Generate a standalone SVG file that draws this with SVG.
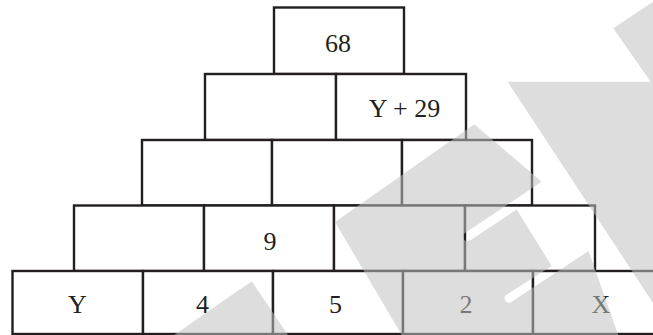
<svg xmlns="http://www.w3.org/2000/svg" width="653" height="335" viewBox="0 0 653 335">
<style>
.box{fill:#ffffff;stroke:#231f20;stroke-width:2.4}
.lbl{font-family:"Liberation Serif","Times New Roman",serif;font-size:26px;fill:#231f20;text-anchor:middle}
.wm{fill:#c1c1c1;opacity:0.55}
</style>
<rect width="653" height="335" fill="#ffffff"/>
<g id="row1">
<g id="n68"><rect class="box" x="274" y="7.5" width="130" height="66.5"/><text class="lbl" x="338" y="52">68</text></g>
</g>
<g id="row2">
<g id="r2c1"><rect class="box" x="205" y="74" width="131" height="66"/></g>
<g id="nY29"><rect class="box" x="336" y="74" width="130" height="66"/><text class="lbl" x="404.5" y="117">Y + 29</text></g>
</g>
<g id="row3">
<g id="r3c1"><rect class="box" x="142" y="140" width="130" height="65.5"/></g>
<g id="r3c2"><rect class="box" x="272" y="140" width="130" height="65.5"/></g>
<g id="r3c3"><rect class="box" x="402" y="140" width="130" height="65.5"/></g>
</g>
<g id="row4">
<g id="r4c1"><rect class="box" x="74" y="205.5" width="130" height="65.5"/></g>
<g id="n9"><rect class="box" x="204" y="205.5" width="130" height="65.5"/><text class="lbl" x="270" y="249.5">9</text></g>
<g id="r4c3"><rect class="box" x="334" y="205.5" width="131" height="65.5"/></g>
<g id="r4c4"><rect class="box" x="465" y="205.5" width="130" height="65.5"/></g>
</g>
<g id="row5">
<g id="nY"><rect class="box" x="12.5" y="271" width="130.5" height="63"/><text class="lbl" x="77.5" y="313">Y</text></g>
<g id="n4"><rect class="box" x="143" y="271" width="130" height="63"/><text class="lbl" x="202.5" y="313">4</text></g>
<g id="n5"><rect class="box" x="273" y="271" width="130" height="63"/><text class="lbl" x="335.5" y="313">5</text></g>
<g id="n2"><rect class="box" x="403" y="271" width="130" height="63"/><text class="lbl" x="466" y="313">2</text></g>
<g id="nX"><rect class="box" x="533" y="271" width="130" height="63"/><text class="lbl" x="601" y="312.5">X</text></g>
</g>
<g id="watermark">
<path class="wm" d="M653,1.7 L613.3,28.3 L650.7,81.7 L507.7,81.7 L653,303 Z
M474.3,124.3 L541.7,181.7 L465,233 A4.5,4.5 0 0 0 470,240.5 L516.7,209.5 L551.7,266 L506,295 A4.5,4.5 0 0 0 510.5,302.5 L588.5,251 L618.3,335 L401.7,335 L335,222 Z
M251.7,281.3 L174.2,335 L288,335 Z"/>
</g>
</svg>
